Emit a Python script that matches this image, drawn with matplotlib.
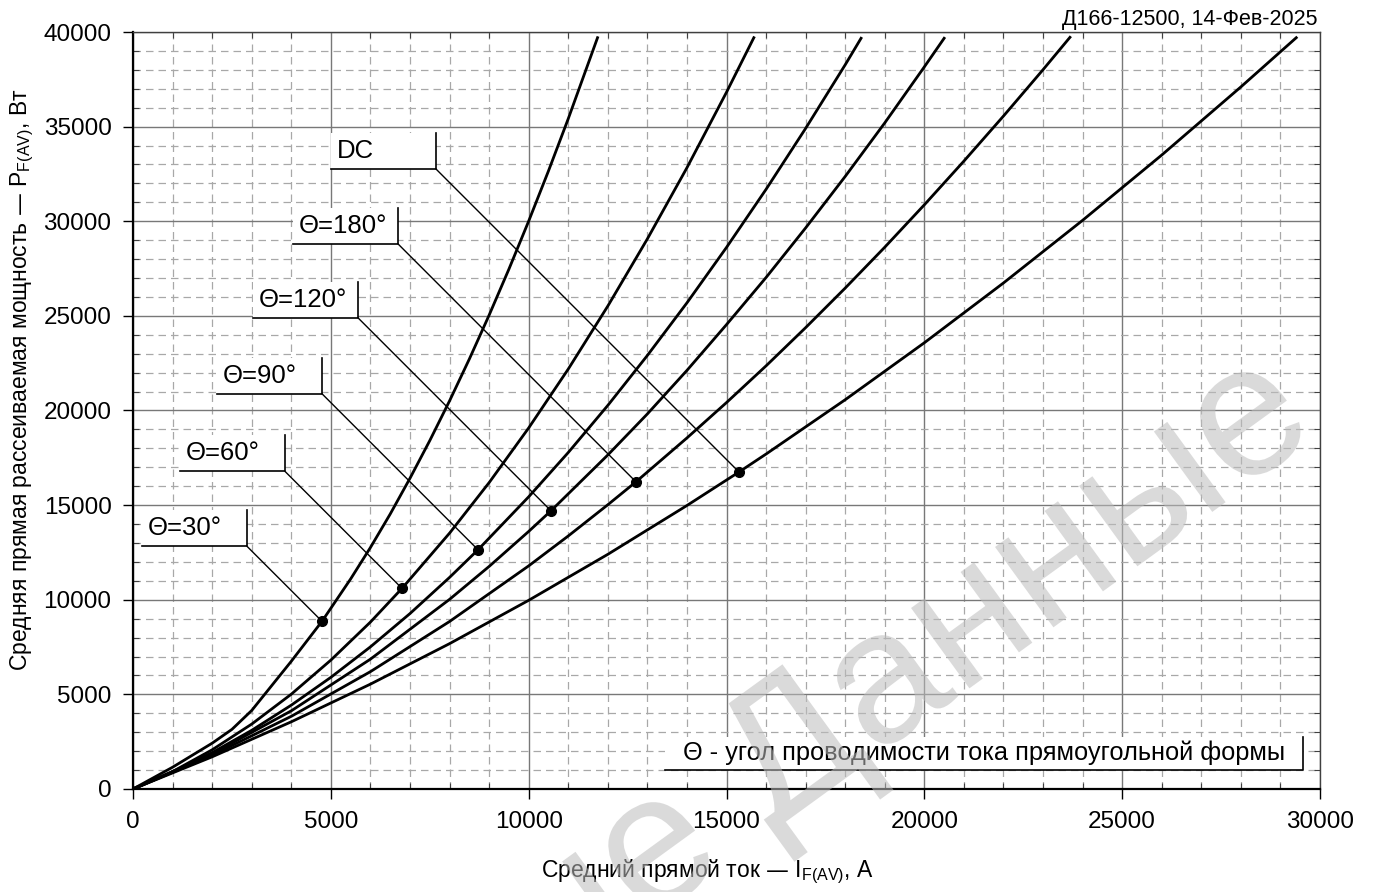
import numpy as np
import matplotlib.pyplot as plt
from matplotlib.patches import Rectangle, PathPatch
from matplotlib.textpath import TextPath
from matplotlib.font_manager import FontProperties
from matplotlib.transforms import Affine2D
from matplotlib.ticker import MultipleLocator

plt.rcParams['font.family'] = ['Liberation Sans', 'DejaVu Sans']
plt.rcParams['mathtext.default'] = 'regular'

# average forward current, A  /  average dissipated power, W
i_30 = [0, 1000, 2000, 2500, 3000, 3500, 4000, 4776, 5500, 6000, 6500, 7000, 7500,
        8000, 8500, 9000, 9500, 10000, 10500, 11000, 11740]
p_30 = [0, 1150, 2420, 3150, 4150, 5450, 6750, 8860, 11100, 12760, 14530, 16420, 18410,
        20510, 22720, 25040, 27470, 30010, 32660, 35420, 39700]

i_60 = [0, 1000, 2000, 3000, 4000, 5000, 6000, 6798, 8000, 9000, 10000, 11000, 12000,
        13000, 14000, 15000, 15690]
p_60 = [0, 920, 2070, 3430, 5010, 6810, 8820, 10600, 13520, 16190, 19080, 22190, 25520,
        29070, 32830, 36820, 39700]

i_90 = [0, 1000, 2000, 3000, 4000, 5000, 6000, 7000, 8000, 8719, 10000, 11000, 12000,
        13000, 14000, 15000, 16000, 17000, 18000, 18400]
p_90 = [0, 890, 1920, 3100, 4430, 5900, 7510, 9270, 11180, 12640, 15440, 17780, 20270,
        22910, 25690, 28620, 31690, 34910, 38270, 39670]

i_120 = [0, 2000, 4000, 6000, 8000, 9000, 10000, 10563, 12000, 13000, 14000, 15000,
         16000, 17000, 18000, 19000, 20000, 20500]
p_120 = [0, 1850, 4130, 6860, 10020, 11760, 13610, 14700, 17650, 19820, 22120, 24540,
         27030, 29650, 32370, 35200, 38160, 39670]

i_180 = [0, 2000, 4000, 6000, 8000, 10000, 11000, 12000, 12711, 14000, 15000, 16000,
         17000, 18000, 19000, 20000, 21000, 22000, 23000, 23680]
p_180 = [0, 1780, 3840, 6200, 8850, 11790, 13370, 15020, 16230, 18550, 20420, 22360,
         24380, 26470, 28630, 30870, 33180, 35560, 38010, 39720]

i_dc = [0, 2000, 4000, 6000, 8000, 10000, 12000, 14000, 15315, 16000, 18000, 20000,
        22000, 24000, 26000, 28000, 29400]
p_dc = [0, 1700, 3550, 5540, 7680, 9970, 12400, 14980, 16750, 17700, 20570, 23580,
        26740, 30050, 33500, 37100, 39700]

curve_names = ["DC", "Θ=180°", "Θ=120°", "Θ=90°", "Θ=60°", "Θ=30°"]
curve_i = [i_dc, i_180, i_120, i_90, i_60, i_30]
curve_p = [p_dc, p_180, p_120, p_90, p_60, p_30]

# marked operating points on each curve
mark_i = [15315, 12711, 10563, 8719, 6798, 4776]
mark_p = [16750, 16230, 14700, 12640, 10600, 8860]

# leader length (px, along 45 deg) from marker to label corner
leader_px = [303, 238, 193, 156, 117, 75]

fig = plt.figure(figsize=(13.73, 8.92), dpi=100)
ax = fig.add_axes([0.0969, 0.1155, 0.8645, 0.8486])
ax.set_xlim(0, 30000)
ax.set_ylim(0, 40000)

ax.xaxis.set_major_locator(MultipleLocator(5000))
ax.xaxis.set_minor_locator(MultipleLocator(1000))
ax.yaxis.set_major_locator(MultipleLocator(5000))
ax.yaxis.set_minor_locator(MultipleLocator(1000))

ax.grid(which='major', color='#787878', lw=1.0, ls='-', zorder=0)
ax.grid(which='minor', color='#a8a8a8', lw=0.9, ls=(0, (6, 4)), zorder=0)
ax.set_axisbelow(True)

ax.tick_params(which='major', direction='out', length=7.5, width=1.0,
               labelsize=17.5, pad=8, colors='black')
ax.tick_params(which='minor', direction='in', length=4, width=0.8,
               top=True, right=True, color='#404040')
for side in ('left', 'bottom'):
    ax.spines[side].set_linewidth(1.6)
    ax.spines[side].set_color('black')
for side in ('top', 'right'):
    ax.spines[side].set_linewidth(1.0)
    ax.spines[side].set_color('#404040')

for xs, ys in zip(curve_i, curve_p):
    ax.plot(xs, ys, color='black', lw=2.0, solid_joinstyle='round', zorder=4)

ax.plot(mark_i, mark_p, 'o', color='black', ms=7, zorder=6)

# labels: white box with underline + right edge, leader to the marker
to_data = ax.transData.inverted()
box_w, box_h = 105, 36
for name, mi, mp, d in zip(curve_names, mark_i, mark_p, leader_px):
    mx, my = ax.transData.transform((mi, mp))
    cx, cy = mx - d, my + d
    (x0, y0), (x1, y1), (xt, yt) = to_data.transform(
        [(cx - box_w, cy), (cx, cy + box_h), (cx - box_w + 6, cy + box_h / 2)])
    ax.add_patch(Rectangle((x0, y0), x1 - x0, y1 - y0, facecolor='white',
                           edgecolor='none', zorder=3))
    ax.plot([x0, x1, x1], [y0, y0, y1], color='black', lw=1.2, zorder=5)
    ax.plot([x1, mi], [y0, mp], color='black', lw=1.0, zorder=5)
    ax.text(xt, yt, name, fontsize=18.5, ha='left', va='center', zorder=5)

# note box in the lower right corner
ax.add_patch(Rectangle((0.448, 0.0251), 0.5377, 0.0436, transform=ax.transAxes,
                       facecolor='white', edgecolor='none', zorder=3))
ax.plot([0.448, 0.9857, 0.9857], [0.0251, 0.0251, 0.0687], transform=ax.transAxes,
        color='black', lw=1.2, zorder=5)
ax.text(0.4634, 0.0475, "Θ - угол проводимости тока прямоугольной формы",
        transform=ax.transAxes, fontsize=18.3, ha='left', va='center', zorder=5)

fig.text(1318 / 1373, 1 - 19 / 892, "Д166-12500, 14-Фев-2025", fontsize=15.5,
         ha='right', va='center')
fig.text(707 / 1373, 1 - 872 / 892, "Средний прямой ток — I$_{F(AV)}$, А",
         fontsize=16.5, ha='center', va='center')
fig.text(22 / 1373, 1 - 380 / 892,
         "Средняя прямая рассеиваемая мощность — P$_{F(AV)}$, Вт",
         fontsize=16.5, ha='center', va='center', rotation=90)

# diagonal watermark, drawn in pixel space and anchored at its right end
wm = TextPath((0, 0), "Справочные Данные", size=188,
              prop=FontProperties(family='Liberation Sans'))
wm_ext = wm.get_extents()
wm_tr = (Affine2D().translate(-wm_ext.x1, 0).rotate_deg(36)
         .translate(1314, 892 - 438))
fig.add_artist(PathPatch(wm, transform=wm_tr, facecolor='#bdbdbd', edgecolor='none',
                         alpha=0.55, zorder=10))

fig.savefig("out.png", dpi=100)
